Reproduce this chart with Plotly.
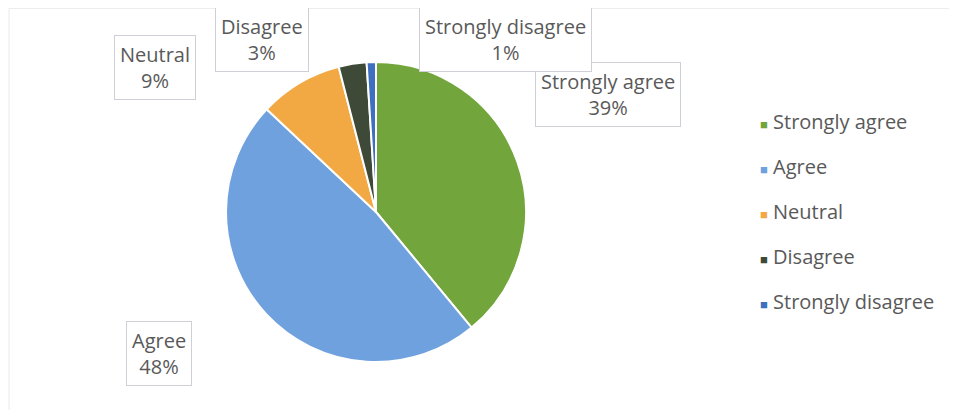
import plotly.graph_objects as go

# The page body adds an 8px margin, so paper coordinates = page px - 8
OFF = 8
W, H = 957 - 2 * OFF, 418 - 2 * OFF

categories = ["Strongly agree", "Agree", "Neutral", "Disagree", "Strongly disagree"]
percents = [39, 48, 9, 3, 1]
colors = ["#72A53C", "#6FA1DE", "#F2A944", "#3E4A37", "#3F6FBF"]

# label box centres (page px) for each category
label_pos = {
    "Strongly agree": (608, 95),
    "Agree": (159, 353),
    "Neutral": (155, 68),
    "Disagree": (262, 40),
    "Strongly disagree": (506, 39),
}

def px(x, y):
    return (x - OFF) / W, 1 - (y - OFF) / H

FONT = "Open Sans, sans-serif"
TXT = "#595959"

fig = go.Figure()
cx, cy, r = 376, 212, 150
x0, y0 = px(cx - r, cy - r)
x1, y1 = px(cx + r, cy + r)
fig.add_trace(go.Pie(
    labels=categories, values=percents, sort=False, direction="clockwise",
    rotation=0, textinfo="none", hoverinfo="label+percent",
    marker=dict(colors=colors, line=dict(color="white", width=2)),
    domain=dict(x=[x0, x1], y=[y1, y0]), showlegend=False,
))

annotations = []
for cat, pct in zip(categories, percents):
    lx, ly = px(*label_pos[cat])
    annotations.append(dict(
        x=lx, y=ly, xref="paper", yref="paper", showarrow=False,
        xanchor="center", yanchor="middle",
        text=f"{cat}<br>{pct}%", align="center",
        font=dict(family=FONT, size=20, color=TXT),
        bgcolor="white", bordercolor="#CFCFD8", borderwidth=1, borderpad=5,
    ))

# legend built as annotations
leg_y = [122, 166, 211, 256, 301]
for cat, col, yy in zip(categories, colors, leg_y):
    lx, ly = px(758, yy)
    annotations.append(dict(
        x=lx, y=ly, xref="paper", yref="paper", showarrow=False,
        xanchor="left", yanchor="middle",
        text=f"<span style='color:{col};font-size:13px'>■</span> {cat}",
        font=dict(family=FONT, size=20, color=TXT),
    ))

bx0, by0 = px(9, 7)
fig.update_layout(
    width=W, height=H, margin=dict(l=0, r=0, t=0, b=0),
    paper_bgcolor="white", plot_bgcolor="white",
    annotations=annotations,
    shapes=[dict(type="rect", xref="paper", yref="paper",
                 x0=bx0, x1=1.01, y0=-0.01, y1=min(by0, 0.999),
                 line=dict(color="#EBEBEB", width=1), layer="below")],
)

fig.write_html("out.html")
